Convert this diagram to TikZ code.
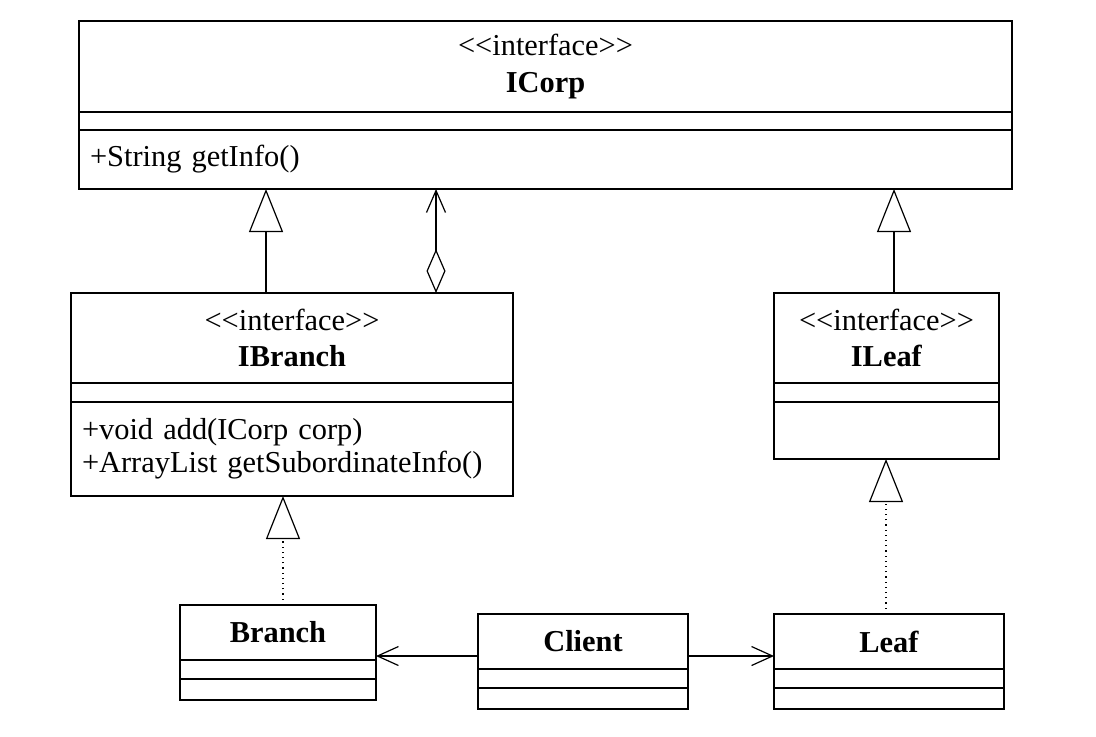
\documentclass[tikz,border=0pt]{standalone}
\usepackage{fontspec}
\setmainfont{Liberation Serif}
\usepackage{tikz}
\usetikzlibrary{arrows.meta}
\usetikzlibrary{positioning}
\newcommand{\stereo}{\textless\kern0pt\textless interface\textgreater\kern0pt\textgreater}
\tikzstyle{classhead}=[
        draw,
        rectangle,
        outer sep=0pt,
        inner sep=0pt,
        align=center,
        line width=0.6pt,
        font=\fontsize{15.2pt}{18.3pt}\selectfont
]
\tikzstyle{classpart}=[
        draw,
        rectangle,
        outer sep=0pt,
        inner xsep=5.5pt,
        inner ysep=0pt,
        align=left,
        line width=0.6pt,
        font=\fontsize{15.2pt}{16.5pt}\selectfont
]
\tikzstyle{inherit}=[-{Triangle[open,length=21.5pt,width=17pt]},line width=0.6pt]
\tikzstyle{realize}=[-{Triangle[open,length=21.5pt,width=17pt]},line width=0.6pt,dotted]
\tikzstyle{aggreg}=[{Diamond[open,length=22pt,width=9.5pt]}-{Straight Barb[length=11pt,width=9.5pt]},line width=0.6pt]
\tikzstyle{assoc}=[-{Straight Barb[length=10.5pt,width=9.5pt]},line width=0.6pt]
\begin{document}
\begin{tikzpicture}[x=1pt,y=1pt]
\useasboundingbox (0,0) rectangle (548,-368);
\node[classhead,minimum width=466.5pt,minimum height=45.5pt] (icorp) at (272.75,-33.25) {\stereo\\\textbf{ICorp}};
\node[classpart,minimum width=466.5pt,minimum height=9pt,below=0pt of icorp] (icorpattr) {};
\node[classpart,minimum width=466.5pt,minimum height=29.5pt,text width=455.5pt,below=0pt of icorpattr] (icorpops) {+String getInfo()};
\node[classhead,minimum width=221pt,minimum height=45pt] (ibranch) at (146,-169) {\stereo\\\textbf{IBranch}};
\node[classpart,minimum width=221pt,minimum height=9.5pt,below=0pt of ibranch] (ibranchattr) {};
\node[classpart,minimum width=221pt,minimum height=47pt,text width=210pt,below=0pt of ibranchattr] (ibranchops) {+void add(ICorp corp)\\+ArrayList getSubordinateInfo()};
\node[classhead,minimum width=112.5pt,minimum height=45pt] (ileaf) at (443.25,-169) {\stereo\\\textbf{ILeaf}};
\node[classpart,minimum width=112.5pt,minimum height=9.5pt,below=0pt of ileaf] (ileafattr) {};
\node[classpart,minimum width=112.5pt,minimum height=28.5pt,below=0pt of ileafattr] (ileafops) {};
\node[classhead,minimum width=98pt,minimum height=27.5pt] (branch) at (139,-316.25) {\textbf{Branch}};
\node[classpart,minimum width=98pt,minimum height=9.5pt,below=0pt of branch] (branchattr) {};
\node[classpart,minimum width=98pt,minimum height=10.5pt,below=0pt of branchattr] (branchops) {};
\node[classhead,minimum width=105pt,minimum height=27.5pt] (client) at (291.5,-320.75) {\textbf{Client}};
\node[classpart,minimum width=105pt,minimum height=9.5pt,below=0pt of client] (clientattr) {};
\node[classpart,minimum width=105pt,minimum height=10.5pt,below=0pt of clientattr] (clientops) {};
\node[classhead,minimum width=115pt,minimum height=27.5pt] (leaf) at (444.5,-320.75) {\textbf{Leaf}};
\node[classpart,minimum width=115pt,minimum height=9.5pt,below=0pt of leaf] (leafattr) {};
\node[classpart,minimum width=115pt,minimum height=10.5pt,below=0pt of leafattr] (leafops) {};
%arrows between classes
\coordinate (gen1) at ([xshift=-13pt]ibranch.north);
\coordinate (agg) at ([xshift=72pt]ibranch.north);
\coordinate (gen2) at ([xshift=3.75pt]ileaf.north);
\coordinate (real1) at ([xshift=2.5pt]branch.north);
\coordinate (real2) at ([xshift=-1.5pt]leaf.north);
\coordinate (cl) at ([yshift=-7.25pt]client.west);
\coordinate (cr) at ([yshift=-7.25pt]client.east);
\draw[inherit] (gen1) -- (gen1 |- icorpops.south);
\draw[aggreg] (agg) -- (agg |- icorpops.south);
\draw[inherit] (gen2) -- (gen2 |- icorpops.south);
\draw[realize] (real1) -- (real1 |- ibranchops.south);
\draw[realize] (real2) -- (real2 |- ileafops.south);
\draw[assoc] (cl) -- (cl -| branch.east);
\draw[assoc] (cr) -- (cr -| leaf.west);
\end{tikzpicture}
\end{document}
